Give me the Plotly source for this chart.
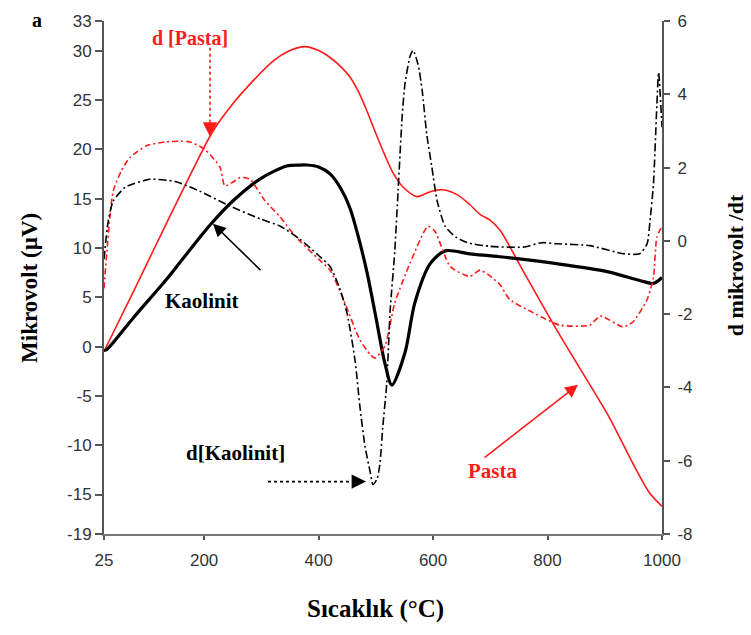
import plotly.graph_objects as go

# Pasta (solid red, left axis, µV)
pasta_T = [25, 80, 140, 200, 215, 250, 280, 320, 350, 376, 400, 420, 440, 455, 470, 485, 500, 515, 530, 547, 572, 595, 617, 642, 664, 682, 700, 717, 757, 816, 892, 909, 932, 956, 979, 1000]
pasta_v = [-0.5, 6.0, 13.2, 20.2, 21.8, 24.6, 26.6, 28.9, 30.0, 30.4, 30.0, 29.3, 28.3, 27.3, 25.8, 23.8, 21.6, 19.5, 17.6, 16.2, 15.2, 15.7, 15.9, 15.4, 14.4, 13.4, 12.8, 11.8, 7.7, 1.7, -5.6, -7.3, -9.9, -12.6, -14.9, -16.2]

# Kaolinit (solid black, left axis, µV)
kao_T = [25, 30, 76, 134, 160, 193, 210, 251, 298, 344, 367, 380, 400, 420, 440, 455, 470, 485, 500, 515, 528, 551, 568, 595, 621, 664, 717, 816, 904, 961, 985, 1000]
kao_v = [-0.4, -0.3, 2.9, 6.8, 8.7, 11.1, 12.3, 14.8, 17.0, 18.3, 18.4, 18.4, 18.2, 17.5, 15.9, 14.0, 11.0, 7.4, 3.0, -1.5, -3.9, -0.6, 4.4, 8.4, 9.7, 9.4, 9.1, 8.4, 7.6, 6.7, 6.4, 7.0]

# d[Pasta] (dash-dot red, right axis)
dpasta_T = [25, 30, 41, 55, 70, 100, 132, 160, 175, 201, 228, 236, 250, 263, 280, 306, 333, 350, 367, 400, 420, 446, 472, 490, 499, 516, 533, 560, 591, 603, 630, 664, 682, 699, 717, 734, 780, 822, 874, 892, 932, 950, 974, 985, 991, 1000]
dpasta_v = [-1.3, -0.3, 1.35, 1.9, 2.27, 2.6, 2.7, 2.72, 2.7, 2.5, 2.0, 1.5, 1.6, 1.73, 1.68, 1.1, 0.65, 0.3, 0.0, -0.5, -0.8, -1.7, -2.7, -3.1, -3.2, -2.86, -1.7, -0.6, 0.4, 0.27, -0.7, -0.97, -0.8, -0.95, -1.2, -1.6, -2.0, -2.3, -2.3, -2.05, -2.35, -2.2, -1.6, -1.0, 0.1, 0.4]

# d[Kaolinit] (dash-dot black, right axis)
dkao_T = [25, 32, 41, 62, 105, 149, 193, 245, 298, 333, 367, 400, 420, 437, 450, 464, 472, 481, 490, 495, 502, 507, 512, 519, 525, 533, 539, 546, 551, 560, 565, 574, 581, 589, 598, 607, 621, 640, 660, 700, 757, 790, 816, 874, 932, 961, 974, 979, 985, 991, 994, 1000]
dkao_v = [-0.5, 0.5, 1.08, 1.46, 1.68, 1.62, 1.35, 0.95, 0.6, 0.4, 0.05, -0.4, -0.7, -1.3, -2.0, -3.3, -4.5, -5.6, -6.3, -6.65, -6.5, -6.1, -5.1, -3.9, -1.9, -0.3, 1.4, 3.4, 4.3, 5.05, 5.2, 4.8, 4.1, 2.9, 2.0, 1.1, 0.4, 0.1, -0.05, -0.15, -0.17, -0.05, -0.08, -0.13, -0.35, -0.35, -0.08, 0.54, 1.54, 3.7, 4.6, 3.1]

x_ticks = [25, 200, 400, 600, 800, 1000]
y_left_ticks = [33, 30, 25, 20, 15, 10, 5, 0, -5, -10, -15, -19]
y_right_ticks = [6, 4, 2, 0, -2, -4, -6, -8]

fig = go.Figure()
fig.add_trace(go.Scatter(x=pasta_T, y=pasta_v, mode="lines", name="Pasta",
                         line=dict(color="#ff1a1a", width=1.6, shape="spline", smoothing=0.8)))
fig.add_trace(go.Scatter(x=kao_T, y=kao_v, mode="lines", name="Kaolinit",
                         line=dict(color="black", width=3.2, shape="spline", smoothing=0.8)))
fig.add_trace(go.Scatter(x=dpasta_T, y=dpasta_v, mode="lines", name="d[Pasta]", yaxis="y2",
                         line=dict(color="#ff1a1a", width=1.6, dash="6px,3px,2px,3px", shape="spline", smoothing=0.6)))
fig.add_trace(go.Scatter(x=dkao_T, y=dkao_v, mode="lines", name="d[Kaolinit]", yaxis="y2",
                         line=dict(color="black", width=1.6, dash="8px,3px,2px,3px", shape="spline", smoothing=0.6)))

tickfont = dict(family="Liberation Sans", size=17, color="#333333")
serif = "Liberation Serif"

fig.update_layout(
    width=751, height=635,
    margin=dict(l=104, r=89, t=15, b=101),
    plot_bgcolor="white", paper_bgcolor="white",
    showlegend=False,
    xaxis=dict(range=[25, 1000], tickvals=x_ticks, ticktext=[str(v) for v in x_ticks],
               showgrid=False, zeroline=False, showline=True, linecolor="#777777", linewidth=2,
               ticks="outside", ticklen=4, tickcolor="#555555", tickwidth=1.5, tickfont=tickfont,
               ticklabelstandoff=6),
    yaxis=dict(range=[-19, 33], tickvals=y_left_ticks, ticktext=[str(v) for v in y_left_ticks],
               showgrid=False, zeroline=False, showline=True, linecolor="#555555", linewidth=2,
               ticks="outside", ticklen=7, tickcolor="#555555", tickwidth=1.5, tickfont=tickfont),
    yaxis2=dict(range=[-8, 6], tickvals=y_right_ticks, ticktext=[str(v) for v in y_right_ticks],
                overlaying="y", side="right",
                showgrid=False, zeroline=False, showline=True, linecolor="#555555", linewidth=2,
                ticks="outside", ticklen=6, tickcolor="#555555", tickwidth=1.5, tickfont=tickfont,
                ticklabelstandoff=4),
)

def px_x(px):
    return (px - 104) / 558.0

def px_y(py):
    return (534 - py) / 519.0

annotations = [
    dict(text="<b>a</b>", x=px_x(37), y=px_y(14), font=dict(family=serif, size=20, color="black")),
    dict(text="<b>Mikrovolt (µV)</b>", x=px_x(30), y=px_y(285), textangle=-90,
         font=dict(family=serif, size=23, color="black")),
    dict(text="<b>d mikrovolt /dt</b>", x=px_x(735), y=px_y(262), textangle=-90,
         font=dict(family=serif, size=22, color="black")),
    dict(text="<b>Sıcaklık (°C)</b>", x=px_x(375), y=px_y(610),
         font=dict(family=serif, size=25, color="black")),
    dict(text="<b>d [Pasta]</b>", x=px_x(190), y=px_y(32), font=dict(family=serif, size=20, color="#ff1a1a")),
    dict(text="<b>Kaolinit</b>", x=px_x(202), y=px_y(298), font=dict(family=serif, size=21, color="black")),
    dict(text="<b>d[Kaolinit]</b>", x=px_x(235), y=px_y(452), font=dict(family=serif, size=21, color="black")),
    dict(text="<b>Pasta</b>", x=px_x(492), y=px_y(470), font=dict(family=serif, size=21, color="#ff1a1a")),
]
for a in annotations:
    a.update(xref="paper", yref="paper", showarrow=False, xanchor="center", yanchor="middle")

arrows = [
    # Kaolinit arrow
    dict(x=px_x(213), y=px_y(220), ax=49, ay=48, arrowcolor="black", arrowwidth=1.6, arrowhead=2, arrowsize=1.6),
    # Pasta arrow
    dict(x=px_x(578), y=px_y(383), ax=-95, ay=74, arrowcolor="#ff1a1a", arrowwidth=1.6, arrowhead=2, arrowsize=1.6),
    # d[Pasta] arrowhead
    dict(x=px_x(210), y=px_y(132), ax=0, ay=-14, arrowcolor="#ff1a1a", arrowwidth=1.6, arrowhead=2, arrowsize=1.8),
    # d[Kaolinit] arrowhead
    dict(x=px_x(366), y=px_y(481), ax=-14, ay=0, arrowcolor="black", arrowwidth=1.6, arrowhead=2, arrowsize=1.8),
]
for a in arrows:
    a.update(xref="paper", yref="paper", text="", showarrow=True, axref="pixel", ayref="pixel")

fig.update_layout(annotations=annotations + arrows)

fig.add_shape(type="line", xref="paper", yref="paper",
              x0=px_x(210), x1=px_x(210), y0=px_y(42), y1=px_y(122),
              line=dict(color="#ff1a1a", width=1.6, dash="dot"))
fig.add_shape(type="line", xref="paper", yref="paper",
              x0=px_x(268), x1=px_x(356), y0=px_y(481), y1=px_y(481),
              line=dict(color="black", width=1.6, dash="dot"))

fig.write_html("out.html")
